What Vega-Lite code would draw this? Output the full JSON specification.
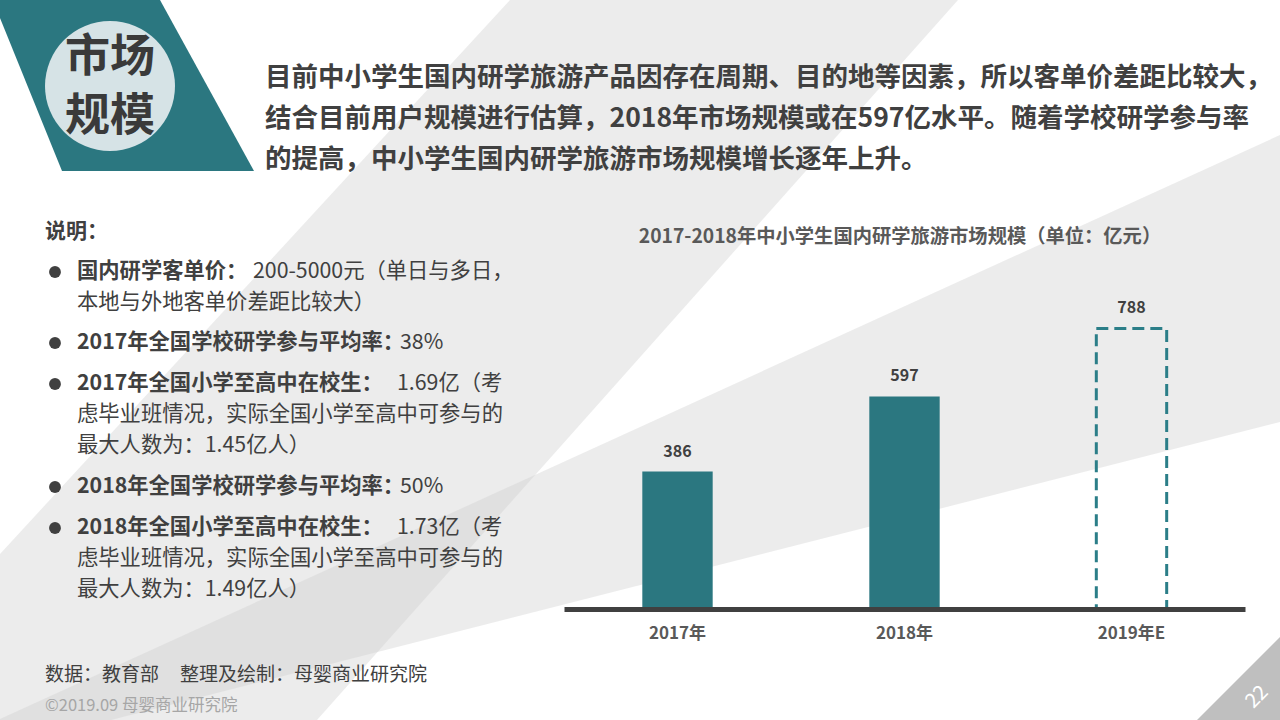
{
  "$schema": "https://vega.github.io/schema/vega-lite/v6.json",
  "width": 681,
  "height": 356,
  "autosize": "none",
  "padding": {"left": 564, "top": 253, "right": 35, "bottom": 111},
  "background": "#ffffff",
  "config": {"view": {"stroke": null}, "text": {"font": "Noto Sans CJK SC"}},
  "data": {"values": [{}]},
  "layer": [
    {"mark": {"type": "point", "shape": "M510,0 L958,0 L317,720 L0,720 L0,554 Z", "filled": true, "fill": "#d0d0d0", "opacity": 0.4, "strokeWidth": 0},
     "encoding": {"x": {"value": -564}, "y": {"value": -253}, "size": {"value": 4}}},
    {"mark": {"type": "point", "shape": "M1280,135 L1280,422 L111,720 L0,720 L0,719 Z", "filled": true, "fill": "#d0d0d0", "opacity": 0.4, "strokeWidth": 0},
     "encoding": {"x": {"value": -564}, "y": {"value": -253}, "size": {"value": 4}}},
    {"mark": {"type": "point", "shape": "M1280,637 L1280,720 L1197,720 Z", "filled": true, "fill": "#bfbfbf", "opacity": 1, "strokeWidth": 0},
     "encoding": {"x": {"value": -564}, "y": {"value": -253}, "size": {"value": 4}}},
    {"mark": {"type": "point", "shape": "M0,0 L160,0 L254,171 L62,171 L0,18 Z", "filled": true, "fill": "#2b7780", "opacity": 1, "strokeWidth": 0},
     "encoding": {"x": {"value": -564}, "y": {"value": -253}, "size": {"value": 4}}},
    {"mark": {"type": "point", "shape": "circle", "filled": true, "fill": "#d6e3e6", "opacity": 1, "strokeWidth": 0},
     "encoding": {"x": {"value": -454}, "y": {"value": -167}, "size": {"value": 16900}}},
    {"mark": {"type": "text", "text": ["市场", "规模"], "lineHeight": 59, "fontSize": 45, "fontWeight": "bold", "color": "#3a3a3a", "align": "center", "baseline": "middle"},
     "encoding": {"x": {"value": -454}, "y": {"value": -195}}},
    {"mark": {"type": "text", "text": "目前中小学生国内研学旅游产品因存在周期、目的地等因素，所以客单价差距比较大，", "fontSize": 26.5, "fontWeight": "bold", "color": "#404040", "align": "left", "baseline": "middle"},
     "encoding": {"x": {"value": -299}, "y": {"value": -175}}},
    {"mark": {"type": "text", "text": "结合目前用户规模进行估算，2018年市场规模或在597亿水平。随着学校研学参与率", "fontSize": 26.5, "fontWeight": "bold", "color": "#404040", "align": "left", "baseline": "middle"},
     "encoding": {"x": {"value": -299}, "y": {"value": -134}}},
    {"mark": {"type": "text", "text": "的提高，中小学生国内研学旅游市场规模增长逐年上升。", "fontSize": 26.5, "fontWeight": "bold", "color": "#404040", "align": "left", "baseline": "middle"},
     "encoding": {"x": {"value": -299}, "y": {"value": -93}}},
    {"mark": {"type": "text", "text": "2017-2018年中小学生国内研学旅游市场规模（单位：亿元）", "fontSize": 19.3, "fontWeight": "bold", "color": "#595959", "align": "center", "baseline": "middle"},
     "encoding": {"x": {"value": 336}, "y": {"value": -16}}},
    {"mark": {"type": "text", "text": "说明：", "fontSize": 21, "fontWeight": "bold", "color": "#404040", "align": "left", "baseline": "middle"},
     "encoding": {"x": {"value": -519}, "y": {"value": -21}}},
    {"mark": {"type": "point", "shape": "circle", "filled": true, "fill": "#404040", "opacity": 1, "strokeWidth": 0},
     "encoding": {"x": {"value": -509}, "y": {"value": 19}, "size": {"value": 140}}},
    {"mark": {"type": "point", "shape": "circle", "filled": true, "fill": "#404040", "opacity": 1, "strokeWidth": 0},
     "encoding": {"x": {"value": -509}, "y": {"value": 90}, "size": {"value": 140}}},
    {"mark": {"type": "point", "shape": "circle", "filled": true, "fill": "#404040", "opacity": 1, "strokeWidth": 0},
     "encoding": {"x": {"value": -509}, "y": {"value": 131}, "size": {"value": 140}}},
    {"mark": {"type": "point", "shape": "circle", "filled": true, "fill": "#404040", "opacity": 1, "strokeWidth": 0},
     "encoding": {"x": {"value": -509}, "y": {"value": 234}, "size": {"value": 140}}},
    {"mark": {"type": "point", "shape": "circle", "filled": true, "fill": "#404040", "opacity": 1, "strokeWidth": 0},
     "encoding": {"x": {"value": -509}, "y": {"value": 275}, "size": {"value": 140}}},
    {"mark": {"type": "text", "text": "国内研学客单价：", "fontSize": 21.3, "fontWeight": "bold", "color": "#404040", "align": "left", "baseline": "middle"},
     "encoding": {"x": {"value": -487}, "y": {"value": 19}}},
    {"mark": {"type": "text", "text": "200-5000元（单日与多日，", "fontSize": 21.3, "color": "#404040", "align": "left", "baseline": "middle"},
     "encoding": {"x": {"value": -311}, "y": {"value": 19}}},
    {"mark": {"type": "text", "text": "本地与外地客单价差距比较大）", "fontSize": 21.3, "color": "#404040", "align": "left", "baseline": "middle"},
     "encoding": {"x": {"value": -487}, "y": {"value": 50}}},
    {"mark": {"type": "text", "text": "2017年全国学校研学参与平均率：", "fontSize": 21.3, "fontWeight": "bold", "color": "#404040", "align": "left", "baseline": "middle"},
     "encoding": {"x": {"value": -487}, "y": {"value": 90}}},
    {"mark": {"type": "text", "text": "38%", "fontSize": 21.3, "color": "#404040", "align": "left", "baseline": "middle"},
     "encoding": {"x": {"value": -164}, "y": {"value": 90}}},
    {"mark": {"type": "text", "text": "2017年全国小学至高中在校生：", "fontSize": 21.3, "fontWeight": "bold", "color": "#404040", "align": "left", "baseline": "middle"},
     "encoding": {"x": {"value": -487}, "y": {"value": 131}}},
    {"mark": {"type": "text", "text": "1.69亿（考", "fontSize": 21.3, "color": "#404040", "align": "left", "baseline": "middle"},
     "encoding": {"x": {"value": -167}, "y": {"value": 131}}},
    {"mark": {"type": "text", "text": "虑毕业班情况，实际全国小学至高中可参与的", "fontSize": 21.3, "color": "#404040", "align": "left", "baseline": "middle"},
     "encoding": {"x": {"value": -487}, "y": {"value": 162}}},
    {"mark": {"type": "text", "text": "最大人数为：1.45亿人）", "fontSize": 21.3, "color": "#404040", "align": "left", "baseline": "middle"},
     "encoding": {"x": {"value": -487}, "y": {"value": 193}}},
    {"mark": {"type": "text", "text": "2018年全国学校研学参与平均率：", "fontSize": 21.3, "fontWeight": "bold", "color": "#404040", "align": "left", "baseline": "middle"},
     "encoding": {"x": {"value": -487}, "y": {"value": 234}}},
    {"mark": {"type": "text", "text": "50%", "fontSize": 21.3, "color": "#404040", "align": "left", "baseline": "middle"},
     "encoding": {"x": {"value": -164}, "y": {"value": 234}}},
    {"mark": {"type": "text", "text": "2018年全国小学至高中在校生：", "fontSize": 21.3, "fontWeight": "bold", "color": "#404040", "align": "left", "baseline": "middle"},
     "encoding": {"x": {"value": -487}, "y": {"value": 275}}},
    {"mark": {"type": "text", "text": "1.73亿（考", "fontSize": 21.3, "color": "#404040", "align": "left", "baseline": "middle"},
     "encoding": {"x": {"value": -167}, "y": {"value": 275}}},
    {"mark": {"type": "text", "text": "虑毕业班情况，实际全国小学至高中可参与的", "fontSize": 21.3, "color": "#404040", "align": "left", "baseline": "middle"},
     "encoding": {"x": {"value": -487}, "y": {"value": 306}}},
    {"mark": {"type": "text", "text": "最大人数为：1.49亿人）", "fontSize": 21.3, "color": "#404040", "align": "left", "baseline": "middle"},
     "encoding": {"x": {"value": -487}, "y": {"value": 337}}},
    {"mark": {"type": "text", "text": "数据：教育部", "fontSize": 19, "color": "#404040", "align": "left", "baseline": "middle"},
     "encoding": {"x": {"value": -519}, "y": {"value": 422}}},
    {"mark": {"type": "text", "text": "整理及绘制：母婴商业研究院", "fontSize": 19, "color": "#404040", "align": "left", "baseline": "middle"},
     "encoding": {"x": {"value": -384}, "y": {"value": 422}}},
    {"mark": {"type": "text", "text": "©2019.09  母婴商业研究院", "fontSize": 16.5, "color": "#a6a6a6", "align": "left", "baseline": "middle"},
     "encoding": {"x": {"value": -519}, "y": {"value": 453}}},
    {"mark": {"type": "text", "text": "22", "fontSize": 20, "color": "#ffffff", "align": "center", "baseline": "middle", "angle": -45},
     "encoding": {"x": {"value": 693}, "y": {"value": 444}}},
    {
      "data": {"values": [
        {"year": "2017年", "value": 386, "type": "实际"},
        {"year": "2018年", "value": 597, "type": "实际"},
        {"year": "2019年E", "value": 788, "type": "预测"}
      ]},
      "encoding": {
        "x": {"field": "year", "type": "nominal", "sort": null,
              "scale": {"paddingInner": 0.69, "paddingOuter": 0.345},
              "axis": {"title": null, "domainColor": "#404040", "domainWidth": 5, "ticks": false, "tickSize": 0,
                       "labelPadding": 16, "labelFont": "Noto Sans CJK SC", "labelFontSize": 17, "labelFontWeight": "bold",
                       "labelColor": "#595959", "labelAngle": 0, "grid": false, "zindex": 1}},
        "y": {"field": "value", "type": "quantitative", "scale": {"domain": [0, 1000]}, "axis": null}
      },
      "layer": [
        {"transform": [{"filter": "datum.type === '实际'"}],
         "mark": {"type": "bar", "color": "#2b7780"}},
        {"transform": [{"filter": "datum.type === '预测'"}],
         "mark": {"type": "bar", "fill": "#ffffff", "fillOpacity": 0, "stroke": "#2b7e88", "strokeWidth": 3, "strokeDash": [12, 6]}},
        {"mark": {"type": "text", "baseline": "middle", "dy": -20, "fontSize": 16, "fontWeight": "bold", "color": "#404040"},
         "encoding": {"text": {"field": "value", "type": "quantitative", "format": "d"}}}
      ]
    }
  ]
}
